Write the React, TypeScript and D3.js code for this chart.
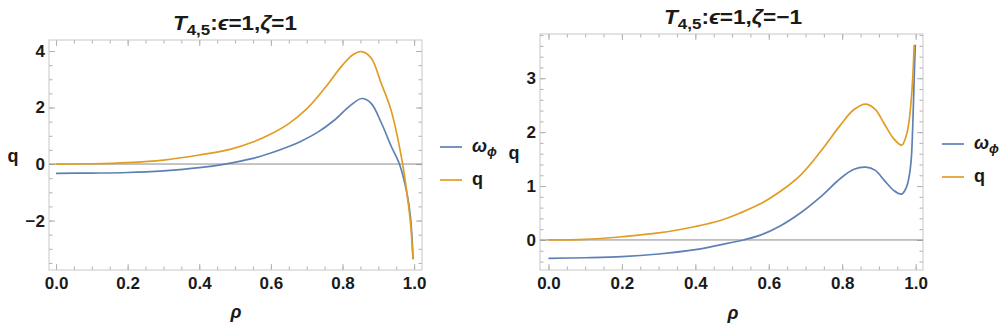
import React, { useEffect, useRef } from 'react';
import * as d3 from 'd3';

// left panel: epsilon=1, zeta=1
const rhoLeftQ = [0, 0.1, 0.2, 0.3, 0.4, 0.486, 0.55, 0.6, 0.65, 0.7, 0.75, 0.8, 0.83, 0.854, 0.88, 0.908, 0.936, 0.968, 0.98, 0.99, 0.997];
const qLeft = [0, 0.01, 0.05, 0.14, 0.32, 0.52, 0.78, 1.06, 1.43, 1.95, 2.68, 3.5, 3.88, 3.98, 3.75, 2.86, 1.89, 0, -1.04, -2.1, -3.37];
const rhoLeftW = [0, 0.1, 0.2, 0.3, 0.4, 0.472, 0.55, 0.6, 0.65, 0.683, 0.73, 0.777, 0.82, 0.854, 0.88, 0.908, 0.936, 0.959, 0.98, 0.99, 0.997];
const omegaLeft = [-0.33, -0.32, -0.3, -0.24, -0.13, 0, 0.2, 0.39, 0.62, 0.8, 1.12, 1.55, 2.05, 2.32, 2.15, 1.47, 0.63, 0, -1.04, -1.9, -3.37];

// right panel: epsilon=1, zeta=-1
const rhoRightQ = [0, 0.1, 0.2, 0.3, 0.4, 0.468, 0.522, 0.577, 0.631, 0.686, 0.741, 0.795, 0.832, 0.865, 0.89, 0.914, 0.94, 0.962, 0.975, 0.982, 0.988, 0.992, 0.996];
const qRight = [0, 0.01, 0.06, 0.13, 0.25, 0.36, 0.5, 0.67, 0.9, 1.2, 1.64, 2.13, 2.42, 2.52, 2.42, 2.16, 1.88, 1.76, 1.95, 2.2, 2.6, 3.0, 3.62];
const rhoRightW = [0, 0.1, 0.2, 0.3, 0.4, 0.468, 0.531, 0.577, 0.631, 0.686, 0.741, 0.795, 0.832, 0.865, 0.89, 0.914, 0.94, 0.962, 0.975, 0.982, 0.988, 0.992, 0.996, 0.999];
const omegaRight = [-0.34, -0.33, -0.31, -0.26, -0.18, -0.09, 0, 0.09, 0.26, 0.5, 0.8, 1.14, 1.31, 1.35, 1.29, 1.11, 0.92, 0.85, 0.98, 1.17, 1.5, 2.1, 3.0, 3.62];

const xMajor = [0, 0.2, 0.4, 0.6, 0.8, 1.0];
const xMinor = d3.range(0, 1.0001, 0.05);
const yMajorLeft = [-2, 0, 2, 4];
const yMinorLeft = d3.range(-3.5, 4.01, 0.5);
const yMajorRight = [0, 1, 2, 3];
const yMinorRight = d3.range(-0.4, 3.81, 0.2);

const legendLabels = ['ω', 'q'];

const BLUE = '#5e81b5';
const ORANGE = '#e19c24';
const FONT = 'Arial, "Liberation Sans", sans-serif';

const panels = [
  {
    left: 49, right: 422, top: 40, bottom: 270,
    xDomain: [-0.0196, 1.022], yDomain: [-3.75, 4.39],
    yMajor: yMajorLeft, yMinor: yMinorLeft,
    q: [rhoLeftQ, qLeft], w: [rhoLeftW, omegaLeft],
    zeta: '1', titleX: 235, titleY: 30, titleW: 124,
    yLabelX: 13, yLabelY: 162, xLabelX: 236, xLabelY: 318,
    legX: 440, legY1: 147, legY2: 180,
  },
  {
    left: 540, right: 923, top: 34, bottom: 270,
    xDomain: [-0.023, 1.02], yDomain: [-0.557, 3.82],
    yMajor: yMajorRight, yMinor: yMinorRight,
    q: [rhoRightQ, qRight], w: [rhoRightW, omegaRight],
    zeta: '−1', titleX: 733, titleY: 24, titleW: 138,
    yLabelX: 514, yLabelY: 159, xLabelX: 733, xLabelY: 319,
    legX: 942, legY1: 144, legY2: 177,
  },
];

function drawPanel(svg: any, p: any) {
  const x = d3.scaleLinear().domain(p.xDomain).range([p.left, p.right]);
  const y = d3.scaleLinear().domain(p.yDomain).range([p.bottom, p.top]);
  const g = svg.append('g');

  const tickStyle = (sel: any) => {
    sel.select('.domain').remove();
    sel.selectAll('line').attr('stroke', '#b0b0b0');
    sel.selectAll('text')
      .attr('font-family', FONT)
      .attr('font-weight', 'bold')
      .attr('font-size', 17)
      .attr('fill', '#1a1a1a');
  };

  // minor ticks, all four sides
  const mk = (axis: any, vals: number[], size: number, tr: string) => {
    g.append('g').attr('transform', tr)
      .call(axis.tickValues(vals).tickSize(size).tickFormat(() => ''))
      .call(tickStyle);
  };
  mk(d3.axisBottom(x), xMinor, -3.5, `translate(0,${p.bottom})`);
  mk(d3.axisTop(x), xMinor, -3.5, `translate(0,${p.top})`);
  mk(d3.axisLeft(y), p.yMinor, -3.5, `translate(${p.left},0)`);
  mk(d3.axisRight(y), p.yMinor, -3.5, `translate(${p.right},0)`);
  mk(d3.axisTop(x), xMajor, -6, `translate(0,${p.top})`);
  mk(d3.axisRight(y), p.yMajor, -6, `translate(${p.right},0)`);

  // major ticks with labels
  g.append('g').attr('transform', `translate(0,${p.bottom})`)
    .call(d3.axisBottom(x).tickValues(xMajor).tickSize(-6).tickPadding(7).tickFormat(d3.format('.1f')))
    .call(tickStyle);
  g.append('g').attr('transform', `translate(${p.left},0)`)
    .call(d3.axisLeft(y).tickValues(p.yMajor).tickSize(-6).tickPadding(4).tickFormat(d3.format('d')))
    .call(tickStyle);

  // frame
  g.append('rect')
    .attr('x', p.left).attr('y', p.top)
    .attr('width', p.right - p.left).attr('height', p.bottom - p.top)
    .attr('fill', 'none').attr('stroke', '#c8c8c8').attr('stroke-width', 1);

  // zero axis
  g.append('line')
    .attr('x1', p.left).attr('x2', p.right)
    .attr('y1', y(0)).attr('y2', y(0))
    .attr('stroke', '#8a8a8a').attr('stroke-width', 1);

  const line = d3.line<[number, number]>()
    .x(d => x(d[0])).y(d => y(d[1]))
    .curve(d3.curveCatmullRom.alpha(0.5));

  const series = [
    { data: p.w, color: BLUE },
    { data: p.q, color: ORANGE },
  ];
  series.forEach(s => {
    const pts = s.data[0].map((r: number, i: number) => [r, s.data[1][i]] as [number, number]);
    g.append('path')
      .attr('d', line(pts))
      .attr('fill', 'none')
      .attr('stroke', s.color)
      .attr('stroke-width', 1.7);
  });

  // title
  const t = g.append('text')
    .attr('x', p.titleX).attr('y', p.titleY)
    .attr('text-anchor', 'middle')
    .attr('textLength', p.titleW)
    .attr('lengthAdjust', 'spacingAndGlyphs')
    .attr('font-family', FONT).attr('font-weight', 'bold')
    .attr('font-size', 20).attr('fill', '#1a1a1a');
  t.append('tspan').attr('font-style', 'italic').text('T');
  t.append('tspan').attr('font-size', 15).attr('dy', 5).text('4,5');
  t.append('tspan').attr('dy', -5).text(':');
  t.append('tspan').attr('font-style', 'italic').text('ϵ');
  t.append('tspan').text('=1,');
  t.append('tspan').attr('font-style', 'italic').text('ζ');
  t.append('tspan').text('=' + p.zeta);

  // axis labels
  g.append('text')
    .attr('x', p.yLabelX).attr('y', p.yLabelY)
    .attr('text-anchor', 'middle')
    .attr('font-family', FONT).attr('font-weight', 'bold')
    .attr('font-size', 18).attr('fill', '#1a1a1a')
    .text('q');
  g.append('text')
    .attr('x', p.xLabelX).attr('y', p.xLabelY)
    .attr('text-anchor', 'middle')
    .attr('font-family', FONT).attr('font-weight', 'bold').attr('font-style', 'italic')
    .attr('font-size', 18).attr('fill', '#1a1a1a')
    .text('ρ');

  // legend
  [
    { yy: p.legY1, color: BLUE, label: legendLabels[0], sub: 'ϕ' },
    { yy: p.legY2, color: ORANGE, label: legendLabels[1], sub: '' },
  ].forEach(l => {
    g.append('line')
      .attr('x1', p.legX).attr('x2', p.legX + 22)
      .attr('y1', l.yy).attr('y2', l.yy)
      .attr('stroke', l.color).attr('stroke-width', 1.7);
    const tx = g.append('text')
      .attr('x', p.legX + 32).attr('y', l.yy + 5)
      .attr('font-family', FONT).attr('font-weight', 'bold')
      .attr('font-size', 18).attr('fill', '#1a1a1a');
    if (l.sub) {
      tx.append('tspan').attr('font-style', 'italic').text(l.label);
      tx.append('tspan').attr('font-size', 13).attr('dy', 4).attr('font-style', 'italic').text(l.sub);
    } else {
      tx.text(l.label);
    }
  });
}

export default function App() {
  const ref = useRef<SVGSVGElement | null>(null);

  useEffect(() => {
    const svg = d3.select(ref.current);
    svg.selectAll('*').remove();
    panels.forEach(p => drawPanel(svg, p));
  }, []);

  return (
    <svg
      ref={ref}
      width={1004}
      height={331}
      style={{ position: 'absolute', left: 0, top: 0, background: '#fff' }}
    />
  );
}
